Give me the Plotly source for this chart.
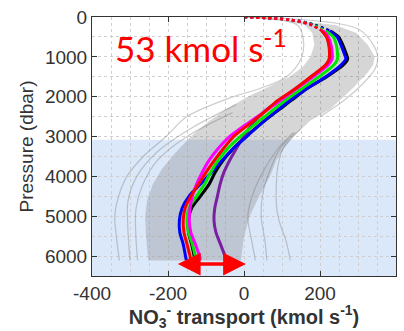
import plotly.graph_objects as go

# ---------------- data ----------------
# pressure grid (dbar) for the coloured mean profiles
P = [0, 50, 100, 200, 350, 500, 700, 900, 1050, 1200, 1500, 1800, 2100, 2400,
     2700, 3000, 3300, 3600, 3900, 4200, 4500, 4800, 5100, 5400, 5700, 6000, 6100]

black = [0, 100, 146, 187, 228, 249, 260, 268, 273, 262, 218, 165, 124, 82,
         42, 5, -28, -55, -76, -92, -115, -138, -147, -146, -138, -131, -129]
purple = [0, 100, 138, 177, 206, 218, 224, 228, 228, 218, 178, 135, 92, 50,
          21, -1, -20, -38, -53, -63, -70, -77, -79, -74, -62, -50, -47]
blue = [0, 100, 145, 185, 225, 245, 255, 263, 268, 256, 215, 165, 120, 80,
        42, 7, -28, -58, -86, -115, -145, -163, -170, -169, -160, -154, -152]
green = [0, 100, 142, 182, 215, 235, 243, 246, 246, 237, 197, 152, 107, 68,
         28, -10, -43, -68, -88, -104, -125, -145, -150, -146, -136, -128, -126]
magenta = [0, 100, 140, 177, 208, 222, 229, 232, 232, 222, 182, 138, 95, 50,
           5, -38, -68, -92, -110, -125, -136, -142, -144, -140, -128, -117, -115]
red = [0, 100, 138, 178, 205, 217, 223, 225, 224, 215, 176, 135, 88, 52,
       12, -27, -54, -78, -100, -120, -140, -155, -160, -158, -150, -142, -140]

# envelope of the dense grey ensemble
env_left_p = [0, 100, 200, 400, 700, 1000, 1250, 1500, 1750, 2000, 2300, 2600,
              3000, 3400, 3800, 4200, 4600, 5000, 5500, 6110]
env_left_x = [0, 100, 160, 180, 185, 175, 155, 120, 65, 10, -45, -90,
              -140, -180, -215, -240, -255, -260, -258, -252]
env_right_p = [0, 50, 100, 200, 400, 700, 1000, 1200, 1400, 1600, 1800, 2000,
               2300, 2600, 3000, 3300, 3600, 4000, 4500, 5000, 5500, 6110]
env_right_x = [0, 90, 150, 240, 296, 326, 344, 340, 325, 305, 285, 262,
               228, 175, 130, 105, 85, 68, 40, 15, 0, -8]

# individual outlying grey members
out1_p = [0, 200, 500, 1000, 1500, 1800, 2000, 2500, 3000, 3500, 4000, 4500, 5000, 5500, 6110]
out1_x = [0, 140, 155, 152, 112, 40, -28, -150, -205, -265, -308, -330, -340, -336, -328]
out2_p = [2200, 2800, 3400, 4000, 4600, 5200, 6110]
out2_x = [-20, -140, -230, -282, -305, -306, -300]
out3_p = [2400, 3000, 3600, 4200, 4800, 5400, 6110]
out3_x = [-30, -150, -228, -266, -284, -285, -280]
out4_p = [2800, 3300, 3700, 4200, 4800, 5200, 5600, 6110]
out4_x = [150, 103, 90, 85, 86, 95, 110, 122]
out5_p = [2900, 3300, 3800, 4400, 5000, 5600, 6110]
out5_x = [135, 95, 70, 50, 45, 55, 60]
out6_p = [2900, 3300, 3800, 4400, 5000, 5600, 6110]
out6_x = [130, 90, 55, 25, 10, 20, 30]
out7_p = [0, 300, 700, 1000, 1300, 1700, 2100, 2500]
out7_x = [0, 300, 340, 352, 345, 310, 262, 200]

shade_top = 3080            # top of the shaded deep layer (dbar)
arrow_left, arrow_right, arrow_p = -178, 5, 6200
label_text = "53 kmol s<sup>-1</sup>"

x_ticks = [-400, -200, 0, 200, 400]
y_ticks = [0, 1000, 2000, 3000, 4000, 5000, 6000]

# ---------------- figure ----------------
fig = go.Figure()

grey = "rgba(120,120,120,0.30)"
grey_line = "rgba(120,120,120,0.38)"

# shaded layer
fig.add_shape(type="rect", xref="x", yref="y", x0=-400, x1=400, y0=shade_top, y1=6500,
              fillcolor="#dbe8fa", line_width=0, layer="below")

# grey ensemble envelope
fig.add_trace(go.Scatter(x=env_left_x + env_right_x[::-1], y=env_left_p + env_right_p[::-1],
                         mode="lines", fill="toself", fillcolor=grey,
                         line=dict(color="rgba(0,0,0,0)", width=0), hoverinfo="skip", showlegend=False))
for ox, op in [(out1_x, out1_p), (out2_x, out2_p), (out3_x, out3_p), (out4_x, out4_p),
               (out5_x, out5_p), (out6_x, out6_p), (out7_x, out7_p)]:
    fig.add_trace(go.Scatter(x=ox, y=op, mode="lines", line=dict(color=grey_line, width=1.2, shape="spline"),
                             hoverinfo="skip", showlegend=False))

DOT_LIMIT = 350
series = [("black", black, "#000000"), ("purple", purple, "#7a1fa0"),
          ("blue", blue, "#0000ff"), ("green", green, "#00e600"),
          ("magenta", magenta, "#ff00ff"), ("red", red, "#ff0000")]
for name, xs, col in series:
    k = sum(1 for p in P if p <= DOT_LIMIT)
    fig.add_trace(go.Scatter(x=xs[k - 1:], y=P[k - 1:], mode="lines", name=name,
                             line=dict(color=col, width=3, shape="spline", smoothing=0.8),
                             showlegend=False))
    fig.add_trace(go.Scatter(x=xs[:k], y=P[:k], mode="lines", name=name,
                             line=dict(color=col, width=2.5, dash="dot", shape="spline"),
                             showlegend=False))

# red double arrow
fig.add_annotation(x=arrow_right, y=arrow_p, ax=arrow_left, ay=arrow_p, xref="x", yref="y",
                   axref="x", ayref="y", text="", showarrow=True, arrowhead=2, arrowside="end+start",
                   arrowwidth=3.5, arrowsize=1.3, arrowcolor="#ff0000", startarrowhead=2,
                   startarrowsize=1.3)

# red label
fig.add_annotation(x=-345, y=720, xref="x", yref="y", text=label_text, showarrow=False,
                   xanchor="left", yanchor="middle",
                   font=dict(family="Lato, Open Sans, sans-serif", size=35, color="#ff0000"))

axis_common = dict(showline=True, linecolor="#333333", linewidth=1, mirror="ticks",
                   ticks="inside", ticklen=5, tickcolor="#333333",
                   showgrid=True, gridcolor="#cfcfcf", griddash="dot", gridwidth=1,
                   zeroline=False,
                   tickfont=dict(family="Liberation Sans, Arial, sans-serif", size=19, color="#333333"))

fig.update_xaxes(range=[-400, 400], tickvals=x_ticks, ticktext=[str(v) for v in x_ticks],
                 minor=dict(dtick=50, tick0=0, showgrid=True, gridcolor="#cfcfcf", griddash="dot"),
                 title=dict(text="<b>NO<sub>3</sub><sup>-</sup> transport (kmol s<sup>-1</sup>)</b>",
                            font=dict(family="Liberation Sans, Arial, sans-serif", size=20, color="#333333"),
                            standoff=6),
                 **axis_common)
fig.update_yaxes(range=[6500, 0], tickvals=y_ticks, ticktext=[str(v) for v in y_ticks],
                 minor=dict(dtick=500, tick0=0, showgrid=True, gridcolor="#cfcfcf", griddash="dot"),
                 title=dict(text="Pressure (dbar)",
                            font=dict(family="Liberation Sans, Arial, sans-serif", size=19, color="#333333"),
                            standoff=6),
                 **axis_common)

fig.update_layout(width=404, height=331, margin=dict(l=92, r=7, t=16, b=47),
                  paper_bgcolor="white", plot_bgcolor="white")

fig.write_html("out.html")
